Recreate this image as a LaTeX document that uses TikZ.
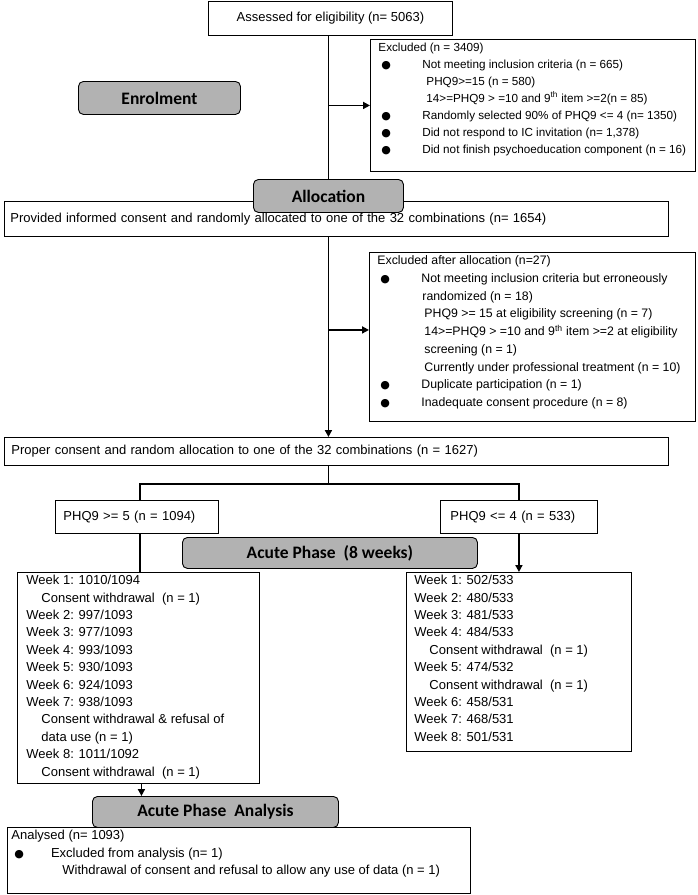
\documentclass[tikz,border=0pt]{standalone}
\usepackage{fontspec}
\setmainfont{Liberation Sans}
\newfontfamily\headfont{Carlito}
\newfontfamily\dotfont{DejaVu Sans}
\usetikzlibrary{arrows.meta}

\newcommand{\bul}[1][44pt]{\makebox[#1][l]{\hspace*{3pt}{\dotfont\fontsize{11}{11}\selectfont ●}}}
\newcommand{\inbox}[3]{\parbox[t][#2][t]{#1}{\strut #3}}

\begin{document}
\begin{tikzpicture}[
  x=1pt, y=-1pt,
  >={Triangle[length=7pt,width=7pt]},
  box/.style={draw, line width=0.9pt, anchor=north west, inner sep=0pt, font=\fontsize{13}{17.4}\selectfont},
  stage/.style={draw, line width=0.9pt, rounded corners=5pt, fill=gray!60, anchor=north west, inner sep=0pt, font=\headfont\bfseries\fontsize{17.5}{20}\selectfont},
  link/.style={line width=1.8pt},
  arrow/.style={->, line width=1.8pt}
]
\useasboundingbox (0,0) rectangle (697,895);

\node[box, minimum width=244pt, minimum height=34pt] (assess) at (208,1) {Assessed for eligibility (n= 5063)};
\node[stage, minimum width=162pt, minimum height=33pt] (enrol) at (78,81) {Enrolment};
\node[box, inner xsep=8pt, font=\fontsize{11.7}{17}\selectfont] (excl1) at (370,39) {\inbox{309pt}{132pt}{%
Excluded (n = 3409)\\
\bul Not meeting inclusion criteria (n = 665)\\
\hspace*{48pt}PHQ9>=15 (n = 580)\\
\hspace*{48pt}14>=PHQ9 > =10 and 9\textsuperscript{th} item >=2(n = 85)\\
\bul Randomly selected 90\% of PHQ9 <= 4 (n= 1350)\\
\bul Did not respond to IC invitation (n= 1,378)\\
\bul Did not finish psychoeducation component (n = 16)}};

\node[box, minimum width=664pt, minimum height=35pt, text width=652pt, align=left, inner xsep=6pt] (provided) at (4,201) {Provided informed consent and randomly allocated to one of the 32 combinations (n= 1654)};
\node[stage, minimum width=150pt, minimum height=33pt] (alloc) at (253,179) {Allocation};

\node[box, inner xsep=8pt, font=\fontsize{12.3}{17.7}\selectfont] (excl2) at (369,252) {\inbox{310pt}{169pt}{%
Excluded after allocation (n=27)\\
\bul Not meeting inclusion criteria but erroneously\\
\hspace*{45pt}randomized (n = 18)\\
\hspace*{47pt}PHQ9 >= 15 at eligibility screening (n = 7)\\
\hspace*{47pt}14>=PHQ9 > =10 and 9\textsuperscript{th} item >=2 at eligibility\\
\hspace*{47pt}screening (n = 1)\\
\hspace*{47pt}Currently under professional treatment (n = 10)\\
\bul Duplicate participation (n = 1)\\
\bul Inadequate consent procedure (n = 8)}};
\coordinate (ex2in) at ([yshift=7pt]excl2.west);

\node[box, minimum width=664pt, minimum height=28pt, text width=650pt, align=left, inner xsep=7pt] (proper) at (4,437) {Proper consent and random allocation to one of the 32 combinations (n = 1627)};

\node[box, minimum width=163pt, minimum height=33pt, text width=147pt, align=left, inner xsep=8pt] (hi) at (55,500) {PHQ9 >= 5 (n = 1094)};
\node[box, minimum width=157pt, minimum height=33pt, text width=137pt, align=left, inner xsep=10pt] (lo) at (440,500) {PHQ9 <= 4 (n = 533)};
\node[stage, minimum width=295pt, minimum height=31pt] (acute) at (182,537) {Acute Phase\ \ (8 weeks)};

\node[box, inner xsep=9pt] (weekhi) at (17,572) {\inbox{224pt}{211pt}{%
Week 1: 1010/1094\\
\hspace*{15pt}Consent withdrawal\ \ (n = 1)\\
Week 2: 997/1093\\
Week 3: 977/1093\\
Week 4: 993/1093\\
Week 5: 930/1093\\
Week 6: 924/1093\\
Week 7: 938/1093\\
\hspace*{15pt}Consent withdrawal \& refusal of\\
\hspace*{15pt}data use (n = 1)\\
Week 8: 1011/1092\\
\hspace*{15pt}Consent withdrawal\ \ (n = 1)}};

\node[box, inner xsep=8pt] (weeklo) at (406,572) {\inbox{209pt}{179pt}{%
Week 1: 502/533\\
Week 2: 480/533\\
Week 3: 481/533\\
Week 4: 484/533\\
\hspace*{15pt}Consent withdrawal\ \ (n = 1)\\
Week 5: 474/532\\
\hspace*{15pt}Consent withdrawal\ \ (n = 1)\\
Week 6: 458/531\\
Week 7: 468/531\\
Week 8: 501/531}};

\node[stage, minimum width=246pt, minimum height=31pt] (analysis) at (92,796) {Acute Phase\ \ Analysis};
\node[box, inner xsep=4pt, font=\fontsize{13}{17.5}\selectfont] (analysed) at (7,827) {\inbox{455pt}{66pt}{%
Analysed (n= 1093)\\
\bul[36pt] Excluded from analysis (n= 1)\\
\hspace*{51pt}Withdrawal of consent and refusal to allow any use of data (n = 1)}};

\draw[link] (alloc.north |- assess.south) -- (alloc.north);
\draw[arrow] (alloc.north |- excl1.west) -- (excl1.west);
\draw[arrow] (alloc.south |- provided.south) -- (alloc.south |- proper.north);
\draw[arrow] (alloc.south |- ex2in) -- (ex2in);
\draw[link] (alloc.south |- proper.south) -- ++(0,18) -| ([xshift=3pt]hi.north);
\draw[link] (alloc.south |- proper.south) -- ++(0,18) -| (lo.north);
\draw[link] ([xshift=3pt]hi.south) -- ([xshift=3pt]hi.south |- weekhi.north);
\draw[arrow] (lo.south) -- (lo.south |- weeklo.north);
\draw[arrow] ([xshift=3pt]weekhi.south) -- ([xshift=3pt]weekhi.south |- analysis.north);
\end{tikzpicture}
\end{document}
